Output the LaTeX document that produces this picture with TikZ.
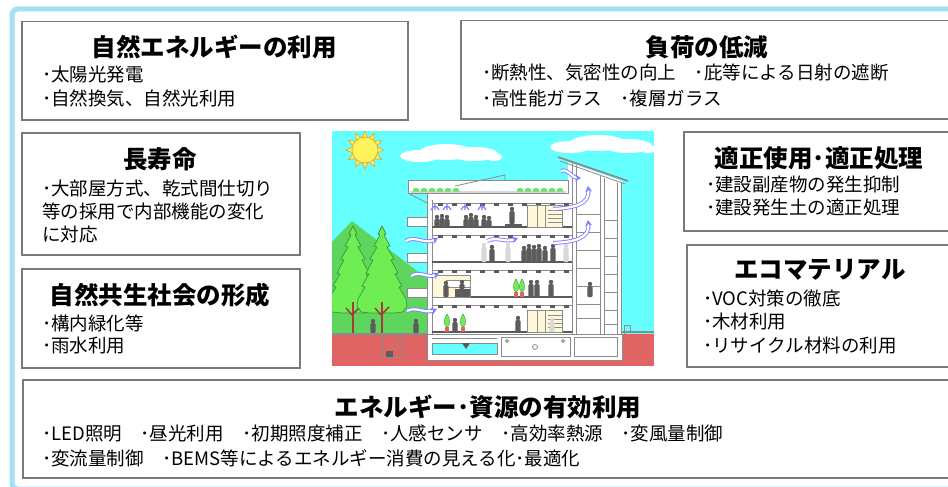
\documentclass[tikz,border=0pt]{standalone}
\usepackage{fontspec}
\setmainfont{Noto Sans CJK JP}
\usetikzlibrary{positioning,arrows.meta}
\definecolor{framebl}{HTML}{A4DFF4}
\definecolor{boxgray}{HTML}{7A7A7A}
\definecolor{sky}{HTML}{66FFFF}
\definecolor{soil}{HTML}{E06464}
\definecolor{hill}{HTML}{5ED65E}
\definecolor{leaf}{HTML}{6EEE52}
\definecolor{leafline}{HTML}{3C963C}
\definecolor{trunk}{HTML}{A83A3A}
\definecolor{sunfill}{HTML}{FFF35C}
\definecolor{sunline}{HTML}{E0A832}
\definecolor{wall}{HTML}{8C8C8C}
\definecolor{slabgray}{HTML}{5A5A5A}
\definecolor{people}{HTML}{5C5C5C}
\definecolor{ghost}{HTML}{D8D8D8}
\definecolor{beige}{HTML}{FFF8D8}
\definecolor{air}{HTML}{8080FF}
\definecolor{roofgreen}{HTML}{66E466}
\newcommand{\person}[4]{%
  \fill[#4] (#1,#2-#3+2) circle (2.2);
  \fill[#4, rounded corners=1pt] (#1-2.6,#2-#3+4.2) rectangle (#1+2.6,#2);
}
\newcommand{\plant}[2]{%
  \fill[soil] (#1-2,#2-5) rectangle (#1+2,#2);
  \fill[leaf, draw=leafline, line width=0.4pt] (#1,#2-18) .. controls (#1+4,#2-12) and (#1+3,#2-6) .. (#1,#2-5)
    .. controls (#1-3,#2-6) and (#1-4,#2-12) .. (#1,#2-18);
}
\newcommand{\conifer}[2]{%
  \draw[tree] (#1,#2) \foreach \dx/\dy in {4/8,2/9,8/20,5/21,12/33,9/34,16/47,13/48,20/60,17/61,24/73,25/80,21/86,
      12/87,-12/87,-21/86,-25/80,-24/73,-17/61,-20/60,-13/48,-16/47,-9/34,-12/33,-5/21,-8/20,-2/9,-4/8}
    {-- (#1+\dx,#2+\dy)} -- cycle;
  \draw[trunk, line width=2.5pt] (#1,#2+76) -- (#1,#2+108);
  \draw[trunk, line width=1.5pt] (#1,#2+90) -- (#1-7,#2+82) (#1,#2+88) -- (#1+7,#2+81);
}
\tikzset{
  panel/.style={draw=boxgray, line width=1.5pt, fill=white, inner sep=0pt, anchor=north west},
  heading/.style={font=\fontsize{24.5}{28}\selectfont\bfseries, inner sep=0pt},
  itemtext/.style={font=\fontsize{18.5}{22}\selectfont, inner sep=0pt, anchor=west},
  tree/.style={fill=leaf, draw=leafline, line width=0.7pt, line join=round},
  wallline/.style={draw=wall, line width=0.8pt},
  floorline/.style={draw=slabgray, line width=2.2pt},
  air/.style={draw=air, line width=0.9pt, double=white, double distance=2.2pt, -{Stealth[length=6pt,width=7pt]}},
  airthin/.style={draw=air, line width=1.2pt},
}
\begin{document}
\begin{tikzpicture}[x=1pt, y=-1pt]
\useasboundingbox (0,0) rectangle (948,487);
\fill[white] (0,0) rectangle (948,487);
\draw[framebl, line width=5pt, rounded corners=6pt] (12,9) rectangle (962,489);

% panels
\node[panel, minimum width=386, minimum height=98] (nature) at (21,21) {};
\node[heading] (nature-title) at (214,47) {自然エネルギーの利用};
\foreach \t [count=\i] in {･太陽光発電, ･自然換気、自然光利用}
  \node[itemtext] (nature-\i) at (42,52+23*\i) {\t};

\node[panel, minimum width=495, minimum height=98] (load) at (460,20) {};
\node[heading] (load-title) at (707,47) {負荷の低減};
\foreach \t [count=\i] in {･断熱性、気密性の向上　･庇等による日射の遮断, ･高性能ガラス　･複層ガラス}
  \node[itemtext] (load-\i) at (482,48+25*\i) {\t};

\node[panel, minimum width=278, minimum height=122] (life) at (21,132) {};
\node[heading] (life-title) at (160,159) {長寿命};
\foreach \t [count=\i] in {･大部屋方式、乾式間仕切り, 等の採用で内部機能の変化, に対応}
  \node[itemtext] (life-\i) at (42,165+23*\i) {\t};

\node[panel, minimum width=278, minimum height=99] (symb) at (21,268) {};
\node[heading] (symb-title) at (160,295) {自然共生社会の形成};
\foreach \t [count=\i] in {･構内緑化等, ･雨水利用}
  \node[itemtext] (symb-\i) at (42,300+23*\i) {\t};

\node[panel, minimum width=272, minimum height=99] (proper) at (683,131) {};
\node[heading] (proper-title) at (819,158) {適正使用･適正処理};
\foreach \t [count=\i] in {･建設副産物の発生抑制, ･建設発生土の適正処理}
  \node[itemtext] (proper-\i) at (706,162+23*\i) {\t};

\node[panel, minimum width=269, minimum height=122] (eco) at (686,244) {};
\node[heading] (eco-title) at (820,270) {エコマテリアル};
\foreach \t [count=\i] in {･VOC対策の徹底, ･木材利用, ･リサイクル材料の利用}
  \node[itemtext] (eco-\i) at (703,275+23.5*\i) {\t};

\node[panel, minimum width=933, minimum height=98] (energy) at (22,379) {};
\node[heading] (energy-title) at (488,407) {エネルギー･資源の有効利用};
\foreach \t [count=\i] in {･LED照明　･昼光利用　･初期照度補正　･人感センサ　･高効率熱源　･変風量制御,
    ･変流量制御　･BEMS等によるエネルギー消費の見える化･最適化}
  \node[itemtext] (energy-\i) at (42,408+25*\i) {\t};

% building scene
\begin{scope}
\clip (332,131) rectangle (654,366);
\fill[sky] (332,131) rectangle (654,366);
\fill[white] (420,156) ellipse (20 and 6) (446,152) ellipse (26 and 8) (474,154) ellipse (24 and 7) (494,157) ellipse (8 and 4);
\fill[white] (570,147) ellipse (20 and 6) (598,143) ellipse (28 and 8) (628,146) ellipse (24 and 7) (648,149) ellipse (8 and 4);
\begin{scope}[shift={(365,150)}]
  \filldraw[fill=sunfill, draw=sunline, line width=0.7pt] (0:19)
    \foreach \k in {1,...,23} {-- ({\k*15}:{ifthenelse(isodd(\k),12,19)})} -- cycle;
  \filldraw[fill=sunfill, draw=sunline, line width=0.7pt] (0,0) circle (13);
\end{scope}
\fill[hill] (332,242) -- (352,221) -- (434,284) -- (434,334) -- (332,334) -- cycle;
\conifer{353}{226}
\conifer{382}{226}
\fill[soil] (332,334) rectangle (654,366);
\draw[wall, line width=1.5pt] (332,334) -- (427,334) (622,332) -- (654,332);
\draw[wallline] (382,334) -- (382,357) -- (402,357) -- (402,334) (397,334) -- (397,350);
\fill[people] (386,357) rectangle (393,351);
\draw[wallline] (624,334) -- (624,325) -- (630,325) -- (630,332);
\person{373}{333}{14}{people}
\person{416}{333}{14}{people}

% shell, roof and tower
\fill[white] (427,193) rectangle (622,360);
\fill[white] (568,162) -- (622,181) -- (622,334) -- (568,334) -- cycle;
\filldraw[fill=white, wallline] (408,180) rectangle (568,193);
\draw[wallline] (410,192) -- (566,192) (455,186) -- (505,175) -- (505,180) (408,193) -- (427,203);
\foreach \x in {413,421,...,455,517,525,...,560}
  {\fill[roofgreen] (\x,191.5) -- (\x,189.5) .. controls (\x+1,187.5) and (\x+5,187.5) .. (\x+6,189.5) -- (\x+6,191.5) -- cycle;}
\draw[wall, line width=1.8pt] (558,157) -- (628,181);
\draw[wallline] (560,161) -- (625,184);
\draw[wallline] (427,193) -- (427,360) (432,200) -- (432,334);
\draw[wallline] (572,163) -- (572,334) (576,165) -- (576,334) (617,183) -- (617,334) (621,183) -- (621,334)
  (600,176) -- (600,334) (604,178) -- (604,334);
\foreach \y in {214,232,250,268,286,304,318}
  {\draw[wallline] (576,\y) -- (600,\y) (604,\y+6) -- (617,\y+6);}
\foreach \y in {217,253,288}
  {\filldraw[fill=white, wallline] (407,\y) rectangle (427,\y+9);}

% floors
\foreach \y in {203,235,270,305} {
  \draw[wallline] (432,\y) -- (572,\y);
  \foreach \x in {438,452,...,566} {\fill[slabgray] (\x,\y) rectangle ++(5,2.5);}
}
\foreach \y in {227,262,297,332} {\draw[floorline] (432,\y) -- (572,\y);}

% basement
\filldraw[fill=white, wallline] (427,334) rectangle (622,360);
\filldraw[fill=sky, wallline] (432,343) rectangle (497,354);
\draw[wallline] (432,338) -- (497,338);
\fill[slabgray] (462,343) -- (466,349) -- (470,343) -- cycle;
\filldraw[fill=white, wallline] (501,337) rectangle (570,356);
\filldraw[fill=white, wallline] (574,337) rectangle (617,356);
\draw[wallline] (535,347) circle (2.5) (507,341) circle (1.5) (563,341) circle (1.5);

% rooms
\foreach \y in {205,310} {
  \filldraw[fill=beige, wallline] (527,\y) rectangle (562,\y+22);
  \draw[wallline] (537,\y) -- (537,\y+22) (545,\y) -- (545,\y+22);
  \foreach \d in {5,9,13,17} {\draw[wallline] (548,\y+\d) -- (562,\y+\d);}
}
\filldraw[fill=beige, wallline] (432,275) rectangle (470,297);
\filldraw[fill=white, wallline] (446,280) rectangle (470,287);
\fill[people] (505,224) rectangle (522,227);
\fill[people] (455,289) rectangle (470,297);

% people and plants
\foreach \x/\h in {437/12,442/13,447/12,466/12,471/14,476/12,484/12,489/11}
  {\person{\x}{227}{\h}{people}}
\person{512}{224}{17}{people}
\foreach \x/\h/\c in {484/19/ghost,492/17/people,508/19/ghost,524/16/people,529/18/people,534/17/people,
    539/18/people,545/16/people,553/18/people,566/18/ghost}
  {\person{\x}{262}{\h}{\c}}
\person{446}{297}{16}{people}
\person{462}{289}{9}{people}
\plant{516}{297}
\plant{522}{297}
\foreach \x in {531,537,551} {\person{\x}{297}{17}{people}}
\person{590}{297}{15}{people}
\plant{447}{332}
\plant{463}{332}
\person{455}{332}{14}{people}
\person{518}{332}{16}{people}
\person{552}{332}{14}{ghost}

% air flow
\foreach \x in {435,447,465,482}
  {\draw[airthin] (\x-4,210) .. controls (\x-2,205) and (\x+2,205) .. (\x+4,210) (\x,204) -- (\x,210);}
\draw[air] (406,241) .. controls (415,235) and (425,245) .. (438,238);
\draw[air] (411,276) .. controls (420,270) and (428,279) .. (439,273);
\draw[air] (407,311) .. controls (416,306) and (425,314) .. (437,309);
\draw[air] (487,241) .. controls (497,236) and (505,243) .. (518,238);
\draw[air] (553,209) .. controls (575,208) and (590,204) .. (588,186);
\draw[air] (553,243) .. controls (575,242) and (590,238) .. (588,220);
\draw[air] (561,171) .. controls (568,168) and (572,178) .. (581,178);
\end{scope}
\end{tikzpicture}
\end{document}
